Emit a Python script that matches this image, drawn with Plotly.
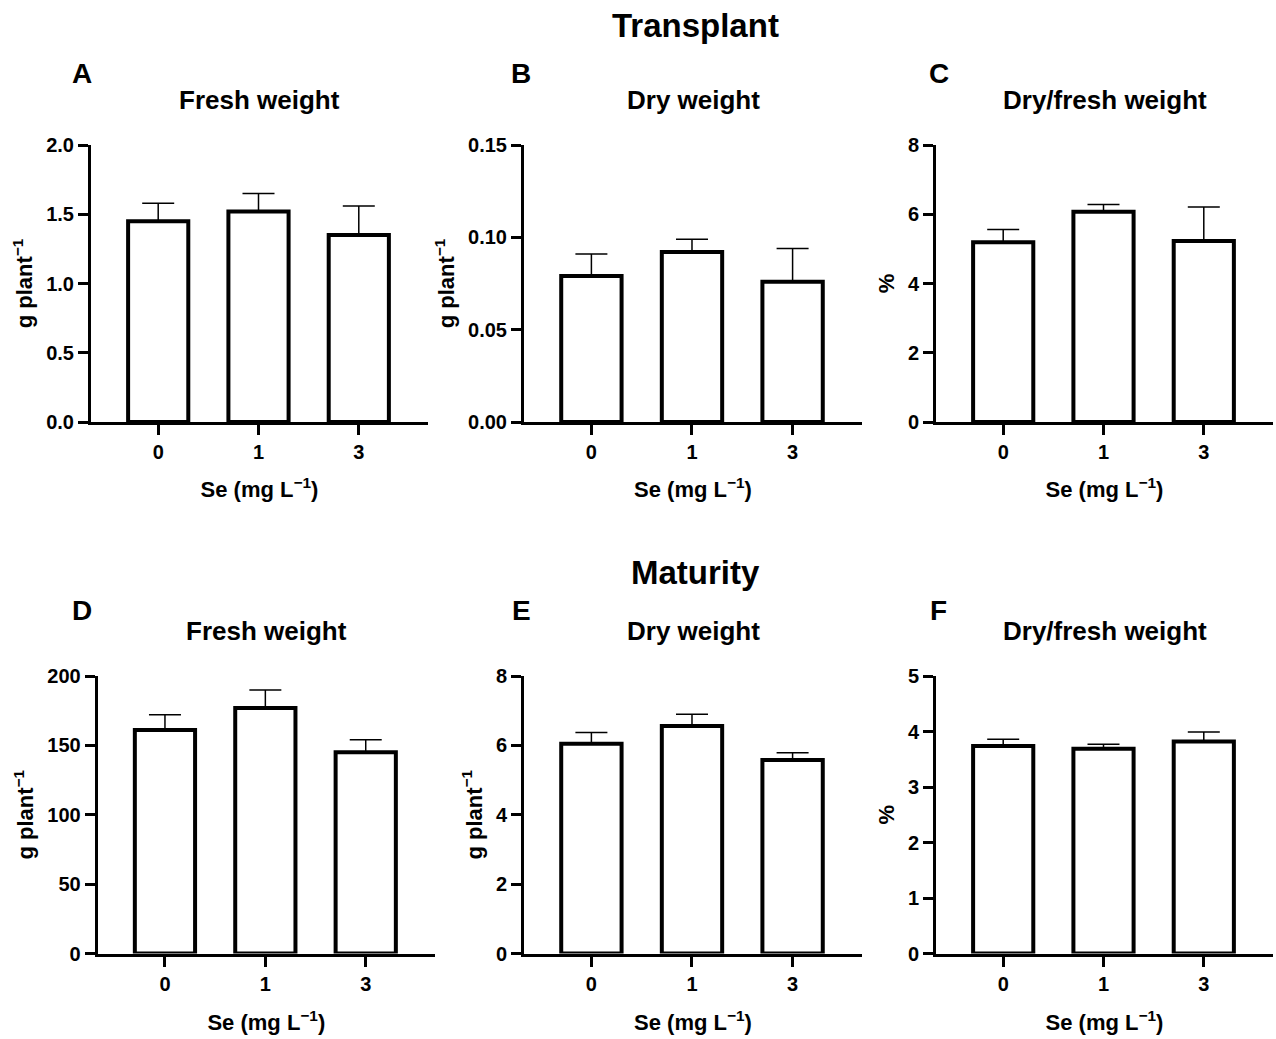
import plotly.graph_objects as go

W, H = 1276, 1039

# ---- data ----
categories = ['0', '1', '3']

fresh_transplant = [1.45, 1.52, 1.35]
fresh_transplant_err = [0.13, 0.13, 0.21]

dry_transplant = [0.079, 0.092, 0.076]
dry_transplant_err = [0.012, 0.007, 0.018]

ratio_transplant = [5.19, 6.07, 5.23]
ratio_transplant_err = [0.37, 0.21, 0.98]

fresh_maturity = [161, 177, 145]
fresh_maturity_err = [11, 13, 9]

dry_maturity = [6.05, 6.56, 5.58]
dry_maturity_err = [0.32, 0.34, 0.21]

ratio_maturity = [3.74, 3.69, 3.82]
ratio_maturity_err = [0.12, 0.08, 0.17]

panel_letters = ['A', 'B', 'C', 'D', 'E', 'F']
panel_titles = ['Fresh weight', 'Dry weight', 'Dry/fresh weight',
                'Fresh weight', 'Dry weight', 'Dry/fresh weight']
y_titles = ['g plant<sup>−1</sup>', 'g plant<sup>−1</sup>', '%',
            'g plant<sup>−1</sup>', 'g plant<sup>−1</sup>', '%']
x_title = 'Se (mg L<sup>−1</sup>)'
y_ranges = [[0, 2], [0, 0.15], [0, 8], [0, 200], [0, 8], [0, 5]]
y_dticks = [0.5, 0.05, 2, 50, 2, 1]
y_formats = ['.1f', '.2f', 'd', 'd', 'd', 'd']
row_titles = ['Transplant', 'Maturity']

means = [fresh_transplant, dry_transplant, ratio_transplant,
         fresh_maturity, dry_maturity, ratio_maturity]
errs = [fresh_transplant_err, dry_transplant_err, ratio_transplant_err,
        fresh_maturity_err, dry_maturity_err, ratio_maturity_err]

# ---- layout geometry (pixels) ----
x_px = [(91, 428), (524, 862), (936, 1273),
        (97.7, 435), (524, 862), (936, 1273)]
y_px = [(145, 422), (145, 422), (145, 422),
        (676, 953.5), (676, 953.5), (676, 953.5)]
letter_px = [(82, 74), (521, 74), (939, 74), (82, 610), (521, 610), (938, 610)]
subtitle_y = [100, 100, 100, 630.5, 630.5, 630.5]
row_title_px = [(695, 25.5), (695, 572)]
x_title_standoff = [20, 20, 20, 22, 22, 22]

FONT = 'Arial, Liberation Sans, sans-serif'


def px_x(x):
    return x / W


def px_y(y):
    return 1 - y / H


fig = go.Figure()
layout = dict(
    template='none',
    width=W, height=H,
    margin=dict(l=0, r=0, t=0, b=0, autoexpand=False),
    paper_bgcolor='white', plot_bgcolor='white',
    showlegend=False,
    font=dict(family=FONT, color='black', size=20, weight='bold'),
    bargap=0.4,
)
annotations = []

for i in range(6):
    n = i + 1
    xa = 'x' if n == 1 else f'x{n}'
    ya = 'y' if n == 1 else f'y{n}'
    fig.add_trace(go.Bar(
        x=categories, y=means[i],
        xaxis=xa, yaxis=ya,
        width=0.6,
        marker=dict(color='white', line=dict(color='black', width=4)),
        error_y=dict(type='data', symmetric=False, array=errs[i],
                     arrayminus=[0] * len(categories),
                     color='black', thickness=1.5, width=16),
    ))
    x0, x1 = x_px[i]
    yt, yb = y_px[i]
    layout['xaxis' if n == 1 else f'xaxis{n}'] = dict(
        domain=[px_x(x0), px_x(x1)],
        anchor=ya,
        type='category',
        range=[-0.67, 2.69],
        automargin=False,
        showline=True, linecolor='black', linewidth=3,
        ticks='outside', ticklen=10, tickwidth=3, tickcolor='black',
        tickfont=dict(family=FONT, size=20, color='black', weight='bold'),
        showgrid=False, zeroline=False,
        title=dict(text=x_title, standoff=x_title_standoff[i],
                   font=dict(family=FONT, size=22, color='black', weight='bold')),
    )
    layout['yaxis' if n == 1 else f'yaxis{n}'] = dict(
        domain=[px_y(yb), px_y(yt)],
        anchor=xa,
        range=y_ranges[i],
        dtick=y_dticks[i], tick0=0,
        tickformat=y_formats[i],
        automargin=False,
        showline=True, linecolor='black', linewidth=3,
        ticks='outside', ticklen=10, tickwidth=3, tickcolor='black',
        tickfont=dict(family=FONT, size=20, color='black', weight='bold'),
        showgrid=False, zeroline=False,
        title=dict(text=y_titles[i], standoff=8,
                   font=dict(family=FONT, size=22, color='black', weight='bold')),
    )
    lx, ly = letter_px[i]
    annotations.append(dict(
        text=panel_letters[i], x=px_x(lx), y=px_y(ly),
        xref='paper', yref='paper', xanchor='center', yanchor='middle',
        showarrow=False,
        font=dict(family=FONT, size=28, color='black', weight='bold')))
    annotations.append(dict(
        text=panel_titles[i], x=px_x((x0 + x1) / 2), y=px_y(subtitle_y[i]),
        xref='paper', yref='paper', xanchor='center', yanchor='middle',
        showarrow=False,
        font=dict(family=FONT, size=26, color='black', weight='bold')))

for t, (rx, ry) in zip(row_titles, row_title_px):
    annotations.append(dict(
        text=t, x=px_x(rx), y=px_y(ry),
        xref='paper', yref='paper', xanchor='center', yanchor='middle',
        showarrow=False,
        font=dict(family=FONT, size=33, color='black', weight='bold')))

layout['annotations'] = annotations
fig.update_layout(**layout)
fig.write_html('out.html')
